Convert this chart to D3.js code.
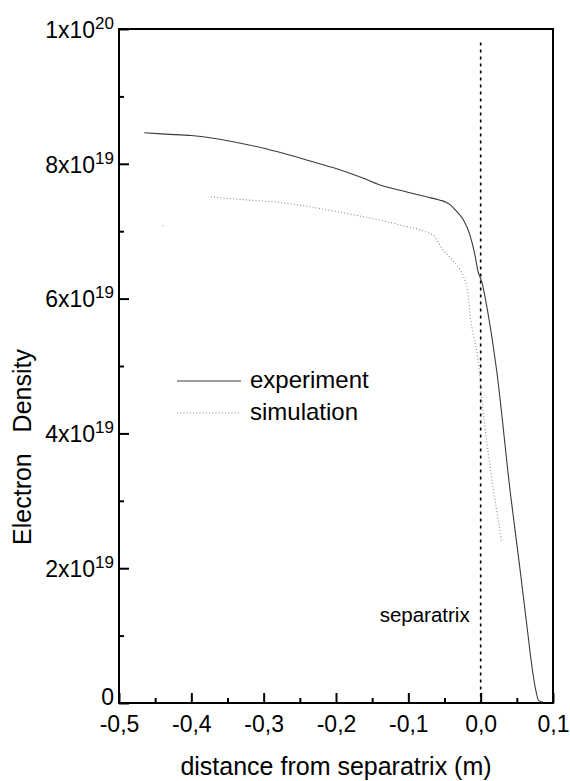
<!DOCTYPE html>
<html>
<head>
<meta charset="utf-8">
<script src="https://cdn.jsdelivr.net/npm/d3@7"></script>
<style>
  html, body { margin: 0; padding: 0; background: #fff; }
  svg { display: block; font-family: "Liberation Sans", Arial, Helvetica, sans-serif; }
</style>
</head>
<body>
<svg id="chart" width="570" height="781"></svg>
<script>
// ---- data (density in units of 1e19 m^-3, distance in m) ----
const experimentX = [-0.465, -0.436, -0.40, -0.37, -0.30, -0.232, -0.20, -0.163, -0.135, -0.116, -0.098, -0.075, -0.056, -0.048, -0.042, -0.033, -0.024, -0.015, -0.008, -0.004, 0.002, 0.010, 0.022, 0.041, 0.054, 0.065, 0.071, 0.076, 0.080, 0.086, 0.092];
const experimentY = [8.46, 8.44, 8.42, 8.38, 8.23, 8.03, 7.93, 7.79, 7.67, 7.62, 7.57, 7.51, 7.46, 7.43, 7.39, 7.29, 7.17, 6.95, 6.65, 6.42, 6.23, 5.79, 4.94, 3.12, 2.02, 1.05, 0.53, 0.20, 0.04, 0.01, 0.00];
const simulationX = [-0.440, -0.437, null, -0.373, -0.33, -0.273, -0.194, -0.111, -0.066, -0.052, -0.040, -0.028, -0.022, -0.017, -0.015, -0.010, -0.004, 0.003, 0.010, 0.017, 0.023, 0.029];
const simulationY = [7.08, 7.08, null, 7.51, 7.47, 7.42, 7.28, 7.09, 6.94, 6.72, 6.58, 6.42, 6.28, 6.02, 5.79, 5.45, 5.13, 4.35, 3.75, 3.20, 2.80, 2.39];
const xMajorTicks = [-0.5, -0.4, -0.3, -0.2, -0.1, 0.0, 0.1];
const xTickLabels = ["-0,5", "-0,4", "-0,3", "-0,2", "-0,1", "0,0", "0,1"];
const xMinorTicks = [-0.45, -0.35, -0.25, -0.15, -0.05, 0.05];
const yMajorTicks = [0, 2, 4, 6, 8, 10];
const yTickBase = ["0", "2x10", "4x10", "6x10", "8x10", "1x10"];
const yTickExp = ["", "19", "19", "19", "19", "20"];
const yMinorTicks = [1, 3, 5, 7, 9];
const separatrixX = 0.0;
const separatrixTop = 9.8;
const seriesNames = ["experiment", "simulation"];

// ---- layout ----
const svg = d3.select("#chart");
const L = 119, R = 553, T = 29, B = 703;
const x = d3.scaleLinear().domain([-0.5, 0.1]).range([L, R]);
const y = d3.scaleLinear().domain([0, 10]).range([B, T]);

// separatrix dotted line
svg.append("line")
  .attr("x1", x(separatrixX)).attr("x2", x(separatrixX))
  .attr("y1", y(separatrixTop)).attr("y2", y(0))
  .attr("stroke", "#000").attr("stroke-width", 1.6)
  .attr("stroke-dasharray", "3,4");

svg.append("text")
  .attr("x", x(separatrixX) - 11).attr("y", 622)
  .attr("text-anchor", "end")
  .attr("font-size", 20.5)
  .attr("fill", "#000")
  .text("separatrix");

// curves
const line = d3.line()
  .defined(d => d[1] != null)
  .curve(d3.curveMonotoneX)
  .x(d => x(d[0])).y(d => y(d[1]));

const expData = experimentX.map((v, i) => [v, experimentY[i]]);
const simData = simulationX.map((v, i) => [v, simulationY[i]]);

svg.append("path").datum(expData)
  .attr("d", line).attr("fill", "none")
  .attr("stroke", "#3a3a3a").attr("stroke-width", 1.1);

svg.append("path").datum(simData)
  .attr("d", line).attr("fill", "none")
  .attr("stroke", "#8a8a8a").attr("stroke-width", 1.1)
  .attr("stroke-dasharray", "1,2.2");

// axes (inward ticks)
const gx = svg.append("g").attr("transform", `translate(0,${B})`)
  .call(d3.axisBottom(x).tickValues(xMajorTicks).tickSize(-10).tickPadding(13)
    .tickFormat((d, i) => xTickLabels[i]));
const gxm = svg.append("g").attr("transform", `translate(0,${B})`)
  .call(d3.axisBottom(x).tickValues(xMinorTicks).tickSize(-5).tickFormat(""));
const gy = svg.append("g").attr("transform", `translate(${L},0)`)
  .call(d3.axisLeft(y).tickValues(yMajorTicks).tickSize(-10).tickPadding(5)
    .tickFormat((d, i) => yTickBase[i]));
const gym = svg.append("g").attr("transform", `translate(${L},0)`)
  .call(d3.axisLeft(y).tickValues(yMinorTicks).tickSize(-5).tickFormat(""));

[gx, gxm, gy, gym].forEach(g => {
  g.select(".domain").remove();
  g.selectAll(".tick line").attr("stroke", "#000").attr("stroke-width", 2);
  g.selectAll("text").attr("font-family", null).attr("fill", "#000");
});
gx.selectAll(".tick text").attr("font-size", 23);

gy.selectAll(".tick text")
  .attr("font-size", 23)
  .attr("dy", (d, i) => i === 0 ? "0.06em" : "0.36em")
  .each(function(d, i) {
    const t = d3.select(this);
    if (yTickExp[i]) {
      t.append("tspan").attr("font-size", 17).attr("dy", -9).text(yTickExp[i]);
    }
  });

// frame
svg.append("rect")
  .attr("x", L).attr("y", T).attr("width", R - L).attr("height", B - T)
  .attr("fill", "none").attr("stroke", "#000").attr("stroke-width", 2);

// axis titles
svg.append("text")
  .attr("x", (L + R) / 2).attr("y", 775)
  .attr("text-anchor", "middle").attr("font-size", 25).attr("fill", "#000")
  .text("distance from separatrix (m)");

svg.append("text")
  .attr("transform", "translate(31,447) rotate(-90)")
  .attr("text-anchor", "middle").attr("font-size", 25).attr("fill", "#000")
  .style("white-space", "pre")
  .text("Electron   Density");

// legend
const legend = svg.append("g");
const legY = [381, 413];
const legStyles = [
  { stroke: "#3a3a3a", dash: null },
  { stroke: "#8a8a8a", dash: "1,2.2" }
];
seriesNames.forEach((name, i) => {
  legend.append("line")
    .attr("x1", 177).attr("x2", 241).attr("y1", legY[i]).attr("y2", legY[i])
    .attr("stroke", legStyles[i].stroke).attr("stroke-width", 1.1)
    .attr("stroke-dasharray", legStyles[i].dash);
  legend.append("text")
    .attr("x", 250).attr("y", legY[i] + 7)
    .attr("font-size", 24).attr("fill", "#000")
    .text(name);
});
</script>
</body>
</html>
